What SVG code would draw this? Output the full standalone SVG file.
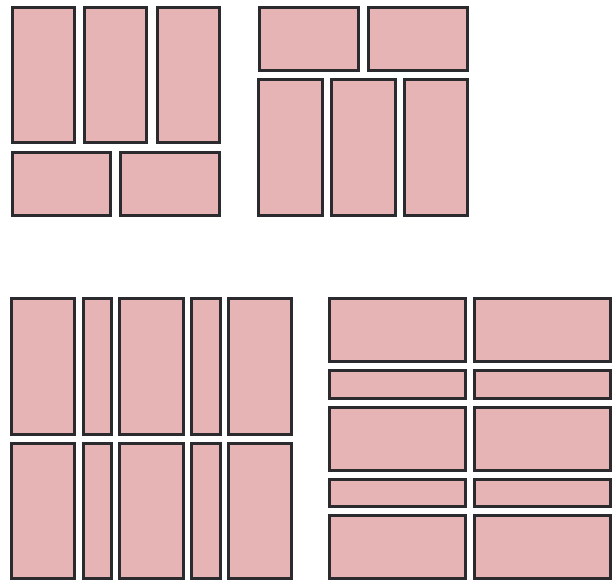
<svg xmlns="http://www.w3.org/2000/svg" width="616" height="583" viewBox="0 0 616 583">
<style>
.p{fill:#e6b4b4;stroke:#2b2b2f;stroke-width:3}
</style>
<rect width="616" height="583" fill="#ffffff"/>
<g id="layout1">
<rect id="a1" class="p" x="12.5" y="7.5" width="62" height="135"/>
<rect id="a2" class="p" x="84.5" y="7.5" width="62" height="135"/>
<rect id="a3" class="p" x="157.5" y="7.5" width="62" height="135"/>
<rect id="a4" class="p" x="12.5" y="152.5" width="98" height="63"/>
<rect id="a5" class="p" x="120.5" y="152.5" width="99" height="63"/>
</g>
<g id="layout2">
<rect id="b1" class="p" x="259.5" y="7.5" width="99" height="63"/>
<rect id="b2" class="p" x="368.5" y="7.5" width="99" height="63"/>
<rect id="b3" class="p" x="258.5" y="79.5" width="64" height="136"/>
<rect id="b4" class="p" x="331.5" y="79.5" width="64" height="136"/>
<rect id="b5" class="p" x="404.5" y="79.5" width="63" height="136"/>
</g>
<g id="layout3">
<rect id="c1" class="p" x="11.5" y="298.5" width="63" height="136"/>
<rect id="c2" class="p" x="83.5" y="298.5" width="28" height="136"/>
<rect id="c3" class="p" x="119.5" y="298.5" width="64" height="136"/>
<rect id="c4" class="p" x="191.5" y="298.5" width="29" height="136"/>
<rect id="c5" class="p" x="228.5" y="298.5" width="63" height="136"/>
<rect id="c6" class="p" x="11.5" y="443.5" width="63" height="135"/>
<rect id="c7" class="p" x="83.5" y="443.5" width="28" height="135"/>
<rect id="c8" class="p" x="119.5" y="443.5" width="64" height="135"/>
<rect id="c9" class="p" x="191.5" y="443.5" width="29" height="135"/>
<rect id="c10" class="p" x="228.5" y="443.5" width="63" height="135"/>
</g>
<g id="layout4">
<rect id="d1" class="p" x="329.5" y="298.5" width="136" height="63"/>
<rect id="d2" class="p" x="474.5" y="298.5" width="136" height="63"/>
<rect id="d3" class="p" x="329.5" y="370.5" width="136" height="28"/>
<rect id="d4" class="p" x="474.5" y="370.5" width="136" height="28"/>
<rect id="d5" class="p" x="329.5" y="407.5" width="136" height="63"/>
<rect id="d6" class="p" x="474.5" y="407.5" width="136" height="63"/>
<rect id="d7" class="p" x="329.5" y="479.5" width="136" height="27"/>
<rect id="d8" class="p" x="474.5" y="479.5" width="136" height="27"/>
<rect id="d9" class="p" x="329.5" y="515.5" width="136" height="63"/>
<rect id="d10" class="p" x="474.5" y="515.5" width="136" height="63"/>
</g>
<g id="connectors"/>
</svg>
